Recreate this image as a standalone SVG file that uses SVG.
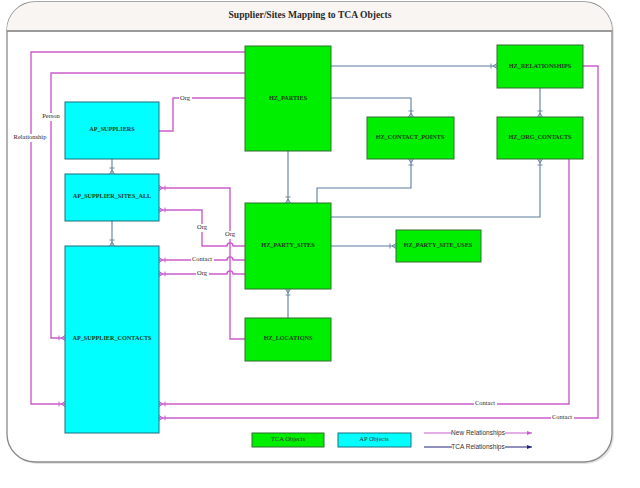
<svg xmlns="http://www.w3.org/2000/svg" width="640" height="488" viewBox="0 0 640 488">
<style>
.frame{fill:#ffffff;stroke:#8a8a8a;stroke-width:1.3}
.tca{fill:#00ee00;stroke:#2f6f2f;stroke-width:1}
.ap{fill:#00ffff;stroke:#1f6f7f;stroke-width:1}
.nt{font-family:"Liberation Serif",serif;font-weight:bold;font-size:6.2px;fill:#1e3a1e;text-anchor:middle;dominant-baseline:middle}
.lbl{font-family:"Liberation Serif",serif;font-size:6.5px;fill:#2a2a2a;text-anchor:middle;dominant-baseline:middle}
.leg{font-family:"Liberation Sans",sans-serif;font-size:6.5px;fill:#333;text-anchor:middle;dominant-baseline:middle}
.mg{fill:none;stroke:#cc5ccc;stroke-width:1.4}
.gb{fill:none;stroke:#5d7d9d;stroke-width:1.1}
.bg{fill:#ffffff}
</style>
<defs>
<marker id="mm" viewBox="-8 -3 9 6" refX="0" refY="0" markerWidth="9" markerHeight="6" markerUnits="userSpaceOnUse" orient="auto">
<path d="M-6,-2.5 V2.5 M-4,0 L0,-2.5 M-4,0 L0,2.5" fill="none" stroke="#cc5ccc" stroke-width="1"/>
</marker>
<marker id="gm" viewBox="-8 -3 9 6" refX="0" refY="0" markerWidth="9" markerHeight="6" markerUnits="userSpaceOnUse" orient="auto">
<path d="M-6,-2.5 V2.5 M-4,0 L0,-2.5 M-4,0 L0,2.5" fill="none" stroke="#5d7d9d" stroke-width="0.9"/>
</marker>
<marker id="la1" viewBox="0 -3 6 6" refX="5" refY="0" markerWidth="6" markerHeight="6" markerUnits="userSpaceOnUse" orient="auto">
<path d="M0,-2 L5,0 L0,2 Z" fill="#cc5ccc"/>
</marker>
<marker id="la2" viewBox="0 -3 6 6" refX="5" refY="0" markerWidth="6" markerHeight="6" markerUnits="userSpaceOnUse" orient="auto">
<path d="M0,-2 L5,0 L0,2 Z" fill="#22227a"/>
</marker>
</defs>

<g id="frame">
<rect x="9" y="4" width="605" height="460" rx="28" fill="#e4e4e4"/>
<rect class="frame" x="7" y="2" width="605" height="460" rx="28"/>
<path d="M7,31 V30 A28,28 0 0 1 35,2 H584 A28,28 0 0 1 612,30 V31 Z" fill="#f8f5f3"/>
<line x1="7" y1="31" x2="612" y2="31" stroke="#7a7a7a" stroke-width="1.3"/>
<text x="310" y="16" font-family="Liberation Serif,serif" font-weight="bold" font-size="9.6" fill="#2a2a2a" text-anchor="middle" dominant-baseline="middle">Supplier/Sites Mapping to TCA Objects</text>
</g>

<g id="connectors">
<path class="mg" d="M245,52 H31 V404 H65" marker-end="url(#mm)"/>
<path class="mg" d="M245,73 H51 V338 H65" marker-end="url(#mm)"/>
<path class="mg" d="M245,98 H173 V131 H159"/>
<path class="mg" d="M245,339 H230 V188 H159" marker-end="url(#mm)"/>
<path class="mg" d="M245,246 H233 A3,3 0 0 0 227,246 H202 V210 H159" marker-end="url(#mm)"/>
<path class="mg" d="M245,260 H233 A3,3 0 0 0 227,260 H159" marker-end="url(#mm)"/>
<path class="mg" d="M245,274 H233 A3,3 0 0 0 227,274 H159" marker-end="url(#mm)"/>
<path class="mg" d="M569,159 V404 H159" marker-end="url(#mm)"/>
<path class="mg" d="M583,66 H598 V418 H159" marker-end="url(#mm)"/>

<path class="gb" d="M331,66 H497" marker-end="url(#gm)"/>
<path class="gb" d="M331,98 H411 V117" marker-end="url(#gm)"/>
<path class="gb" d="M540,88 V117" marker-end="url(#gm)"/>
<path class="gb" d="M288,151 V203" marker-end="url(#gm)"/>
<path class="gb" d="M317,203 V188 H411 V159" marker-end="url(#gm)"/>
<path class="gb" d="M331,217 H540 V159" marker-end="url(#gm)"/>
<path class="gb" d="M331,246 H396" marker-end="url(#gm)"/>
<path class="gb" d="M288,318 V289" marker-end="url(#gm)"/>
<path class="gb" d="M112,159 V174" marker-end="url(#gm)"/>
<path class="gb" d="M112,221 V246" marker-end="url(#gm)"/>

<rect class="bg" x="12" y="134" width="37" height="8"/>
<text class="lbl" x="30" y="138">Relationship</text>
<rect class="bg" x="40" y="113" width="22" height="8"/>
<text class="lbl" x="51" y="117">Person</text>
<rect class="bg" x="179" y="95" width="13" height="8"/>
<text class="lbl" x="185" y="99">Org</text>
<rect class="bg" x="196" y="224" width="13" height="8"/>
<text class="lbl" x="202" y="228">Org</text>
<rect class="bg" x="224" y="231" width="13" height="8"/>
<text class="lbl" x="230" y="235">Org</text>
<rect class="bg" x="191" y="256" width="23" height="8"/>
<text class="lbl" x="202" y="260">Contact</text>
<rect class="bg" x="196" y="270" width="13" height="8"/>
<text class="lbl" x="202" y="274">Org</text>
<rect class="bg" x="474" y="400" width="23" height="8"/>
<text class="lbl" x="485" y="404">Contact</text>
<rect class="bg" x="551" y="414" width="23" height="8"/>
<text class="lbl" x="562" y="418">Contact</text>
</g>

<g id="hz_parties"><rect class="tca" x="245" y="46" width="86" height="105"/><text class="nt" x="288" y="99">HZ_PARTIES</text></g>
<g id="hz_relationships"><rect class="tca" x="497" y="45" width="86" height="43"/><text class="nt" x="540" y="67">HZ_RELATIONSHIPS</text></g>
<g id="hz_contact_points"><rect class="tca" x="367" y="117" width="87" height="42"/><text class="nt" x="410" y="138">HZ_CONTACT_POINTS</text></g>
<g id="hz_org_contacts"><rect class="tca" x="497" y="117" width="86" height="42"/><text class="nt" x="540" y="138">HZ_ORG_CONTACTS</text></g>
<g id="ap_suppliers"><rect class="ap" x="65" y="102" width="94" height="57"/><text class="nt" x="112" y="130">AP_SUPPLIERS</text></g>
<g id="ap_supplier_sites_all"><rect class="ap" x="65" y="174" width="94" height="47"/><text class="nt" x="112" y="197">AP_SUPPLIER_SITES_ALL</text></g>
<g id="ap_supplier_contacts"><rect class="ap" x="65" y="246" width="94" height="187"/><text class="nt" x="112" y="339">AP_SUPPLIER_CONTACTS</text></g>
<g id="hz_party_sites"><rect class="tca" x="245" y="203" width="86" height="86"/><text class="nt" x="288" y="246">HZ_PARTY_SITES</text></g>
<g id="hz_locations"><rect class="tca" x="245" y="318" width="86" height="43"/><text class="nt" x="288" y="339">HZ_LOCATIONS</text></g>
<g id="hz_party_site_uses"><rect class="tca" x="396" y="230" width="85" height="32"/><text class="nt" x="438" y="246">HZ_PARTY_SITE_USES</text></g>

<g id="legend">
<rect class="tca" x="252" y="433" width="72" height="14"/>
<text class="leg" x="288" y="440" style="font-family:'Liberation Serif',serif">TCA Objects</text>
<rect class="ap" x="338" y="433" width="73" height="14"/>
<text class="leg" x="374" y="440" style="font-family:'Liberation Serif',serif">AP Objects</text>
<line x1="424" y1="433" x2="452" y2="433" stroke="#cc5ccc" stroke-width="1"/>
<line x1="505" y1="433" x2="532" y2="433" stroke="#cc5ccc" stroke-width="1" marker-end="url(#la1)"/>
<text class="leg" x="478" y="433">New Relationships</text>
<line x1="424" y1="447" x2="452" y2="447" stroke="#22227a" stroke-width="1"/>
<line x1="505" y1="447" x2="532" y2="447" stroke="#22227a" stroke-width="1" marker-end="url(#la2)"/>
<text class="leg" x="478" y="447">TCA Relationships</text>
</g>
</svg>
